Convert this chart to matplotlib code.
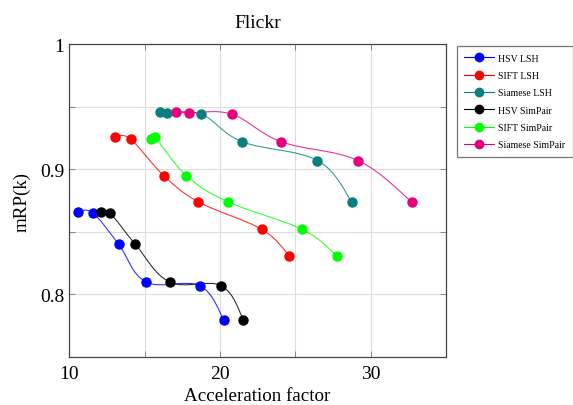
import matplotlib
matplotlib.use("Agg")
import matplotlib.pyplot as plt
import numpy as np
from matplotlib.path import Path
from matplotlib.patches import PathPatch
from matplotlib.lines import Line2D

plt.rcParams["font.family"] = "Liberation Serif"

# данные
names = ["HSV LSH", "SIFT LSH", "Siamese LSH", "HSV SimPair", "SIFT SimPair", "Siamese SimPair"]
colors = ["#0000ff", "#ff0000", "#0a7f7f", "#000000", "#00ff00", "#e6007e"]

hsv_lsh_x = [10.58, 11.57, 13.28, 15.10, 18.66, 20.25]
hsv_lsh_y = [0.866, 0.865, 0.840, 0.810, 0.807, 0.780]
sift_lsh_x = [13.06, 14.07, 16.27, 18.57, 22.78, 24.60]
sift_lsh_y = [0.926, 0.924, 0.895, 0.874, 0.852, 0.831]
siam_lsh_x = [16.05, 16.49, 18.77, 21.48, 26.48, 28.76]
siam_lsh_y = [0.946, 0.945, 0.944, 0.922, 0.907, 0.874]
hsv_sp_x = [12.08, 12.70, 14.39, 16.66, 20.08, 21.56]
hsv_sp_y = [0.866, 0.865, 0.840, 0.810, 0.807, 0.780]
sift_sp_x = [15.45, 15.67, 17.77, 20.54, 25.46, 27.76]
sift_sp_y = [0.924, 0.926, 0.895, 0.874, 0.852, 0.831]
siam_sp_x = [17.09, 17.97, 20.78, 24.07, 29.16, 32.74]
siam_sp_y = [0.946, 0.945, 0.944, 0.922, 0.907, 0.874]

series_x = [hsv_lsh_x, sift_lsh_x, siam_lsh_x, hsv_sp_x, sift_sp_x, siam_sp_x]
series_y = [hsv_lsh_y, sift_lsh_y, siam_lsh_y, hsv_sp_y, sift_sp_y, siam_sp_y]


def smooth_path(xs, ys, tension=0.55):
    # как "smooth" в pgfplots: кубические кривые Безье через точки
    p = np.column_stack([xs, ys])
    n = len(p)
    tang = np.zeros_like(p)
    for i in range(n):
        a = p[max(i - 1, 0)]
        b = p[min(i + 1, n - 1)]
        tang[i] = (b - a) * tension / 3.0
    verts = [p[0]]
    codes = [Path.MOVETO]
    for i in range(n - 1):
        verts += [p[i] + tang[i], p[i + 1] - tang[i + 1], p[i + 1]]
        codes += [Path.CURVE4] * 3
    return Path(verts, codes)


fig = plt.figure(figsize=(5.73, 4.06), dpi=100)
ax = fig.add_axes([0.121, 0.118, 0.657, 0.771])

for xs, ys, c in zip(series_x, series_y, colors):
    ax.add_patch(PathPatch(smooth_path(xs, ys), fc="none", ec=c, lw=0.8, alpha=0.8, zorder=2))
    ax.plot(xs, ys, ls="none", marker="o", ms=6.5, color=c, zorder=3)

ax.set_xlim(10, 35)
ax.set_ylim(0.75, 1.0)
ax.set_xticks([10, 20, 30])
ax.set_xticks([15, 25], minor=True)
ax.set_yticks([0.8, 0.9, 1.0])
ax.set_yticks([0.85, 0.95], minor=True)
ax.set_yticklabels(["0.8", "0.9", "1"])
ax.grid(True, which="both", color="#dddddd", lw=0.8, zorder=0)
ax.set_axisbelow(True)
ax.tick_params(which="both", direction="in", top=True, right=True,
               length=4, width=0.6, color="#777777", labelsize=14)
ax.tick_params(axis="x", pad=6)
for s in ax.spines.values():
    s.set_linewidth(0.9)
    s.set_color("#444444")

ax.set_xlabel("Acceleration factor", fontsize=13.7, labelpad=3)
ax.set_ylabel("mRP(k)", fontsize=13.7, labelpad=7)
ax.set_title("Flickr", fontsize=14, pad=12)

handles = [Line2D([0], [0], color=c, lw=0.8, marker="o", ms=6) for c in colors]
leg = fig.legend(handles, names, loc="upper left", bbox_to_anchor=(0.797, 0.884),
                 fontsize=7, frameon=True, fancybox=False, handlelength=3.0,
                 borderpad=0.8, labelspacing=0.85, handletextpad=0.5, borderaxespad=0)
leg.get_frame().set_edgecolor("#555555")
leg.get_frame().set_linewidth(0.9)

fig.savefig("out.png", dpi=100, facecolor="white")
